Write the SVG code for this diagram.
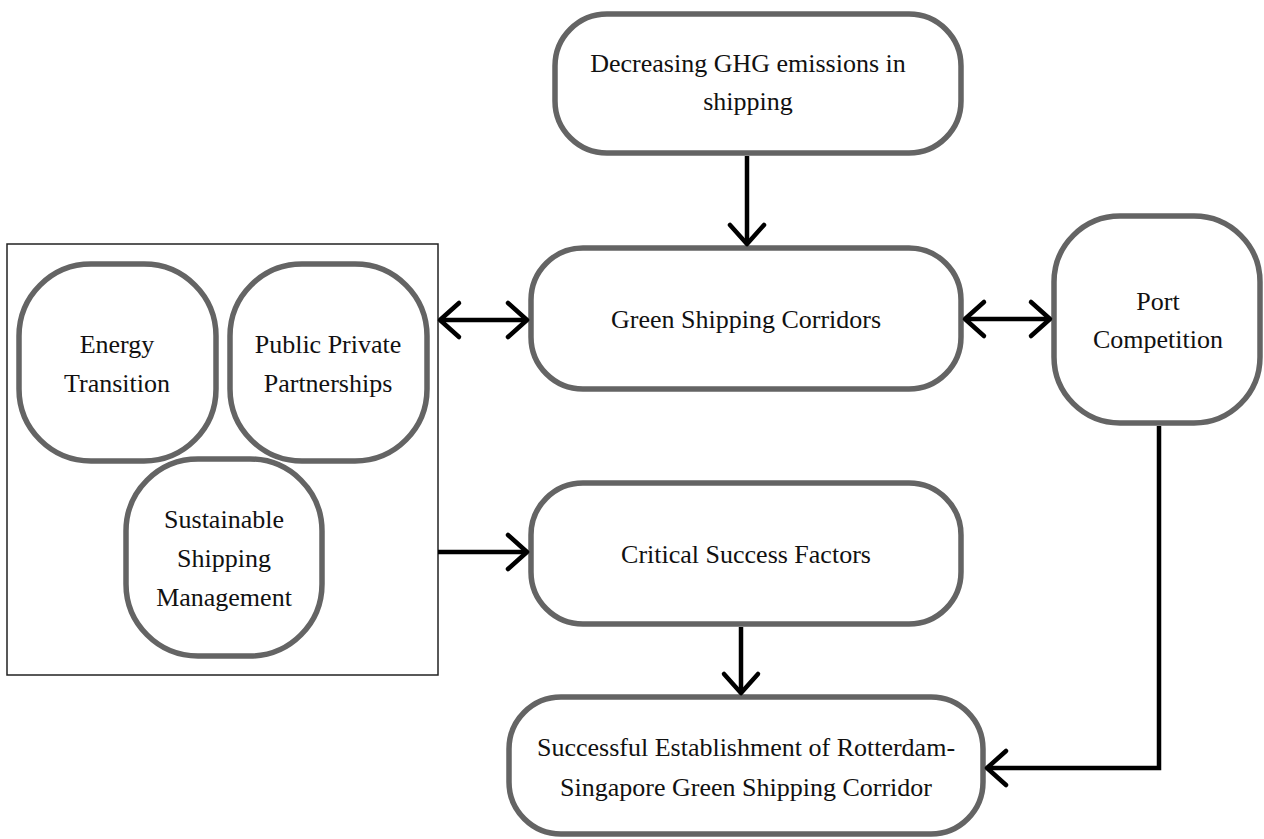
<svg xmlns="http://www.w3.org/2000/svg" width="1264" height="839" viewBox="0 0 1264 839">
<defs>
<style>
.node{fill:#fff;stroke:#646464;stroke-width:5.5}
.t{font-family:"Liberation Serif","Times New Roman","DejaVu Serif",serif;font-size:26px;fill:#111;text-anchor:middle}
.c{fill:none;stroke:#000;stroke-width:4.5}
</style>
<marker id="ah" markerUnits="userSpaceOnUse" viewBox="-24 -22 28 44" refX="0" refY="0" markerWidth="28" markerHeight="44" orient="auto-start-reverse">
<path d="M-19,-17 L0,0 L-19,17" fill="none" stroke="#000" stroke-width="4.5" stroke-linecap="round" stroke-linejoin="round"/>
</marker>
</defs>
<rect width="1264" height="839" fill="#fff"/>
<g id="group-box"><rect x="7" y="244" width="431" height="431" fill="none" stroke="#222" stroke-width="1.5"/></g>
<g id="ghg"><rect class="node" x="555" y="14" width="406" height="139" rx="52"/>
<text class="t" x="748" y="72">Decreasing GHG emissions in</text><text class="t" x="748" y="110">shipping</text></g>
<g id="gsc"><rect class="node" x="531" y="248" width="430" height="141" rx="52"/>
<text class="t" x="746" y="328">Green Shipping Corridors</text></g>
<g id="port"><rect class="node" x="1054" y="216" width="206" height="207" rx="66"/>
<text class="t" x="1158" y="310">Port</text><text class="t" x="1158" y="348">Competition</text></g>
<g id="energy"><rect class="node" x="19" y="264" width="197" height="197" rx="72"/>
<text class="t" x="117" y="353">Energy</text><text class="t" x="117" y="392">Transition</text></g>
<g id="ppp"><rect class="node" x="230" y="264" width="197" height="197" rx="72"/>
<text class="t" x="328" y="353">Public Private</text><text class="t" x="328" y="392">Partnerships</text></g>
<g id="ssm"><rect class="node" x="126" y="459" width="196" height="197" rx="72"/>
<text class="t" x="224" y="528">Sustainable</text><text class="t" x="224" y="567">Shipping</text><text class="t" x="224" y="606">Management</text></g>
<g id="csf"><rect class="node" x="531" y="483" width="430" height="141" rx="52"/>
<text class="t" x="746" y="563">Critical Success Factors</text></g>
<g id="success"><rect class="node" x="509" y="697" width="474" height="137" rx="52"/>
<text class="t" x="746" y="756">Successful Establishment of Rotterdam-</text><text class="t" x="746" y="796">Singapore Green Shipping Corridor</text></g>
<g id="connectors">
<path class="c" d="M747,156 L747,244" marker-end="url(#ah)"/>
<path class="c" d="M440,320 L527,320" marker-start="url(#ah)" marker-end="url(#ah)"/>
<path class="c" d="M965,319 L1050,319" marker-start="url(#ah)" marker-end="url(#ah)"/>
<path class="c" d="M438,552 L527,552" marker-end="url(#ah)"/>
<path class="c" d="M741,627 L741,693" marker-end="url(#ah)"/>
<path class="c" d="M1159,426 L1159,768 L987,768" marker-end="url(#ah)"/>
</g>
</svg>
